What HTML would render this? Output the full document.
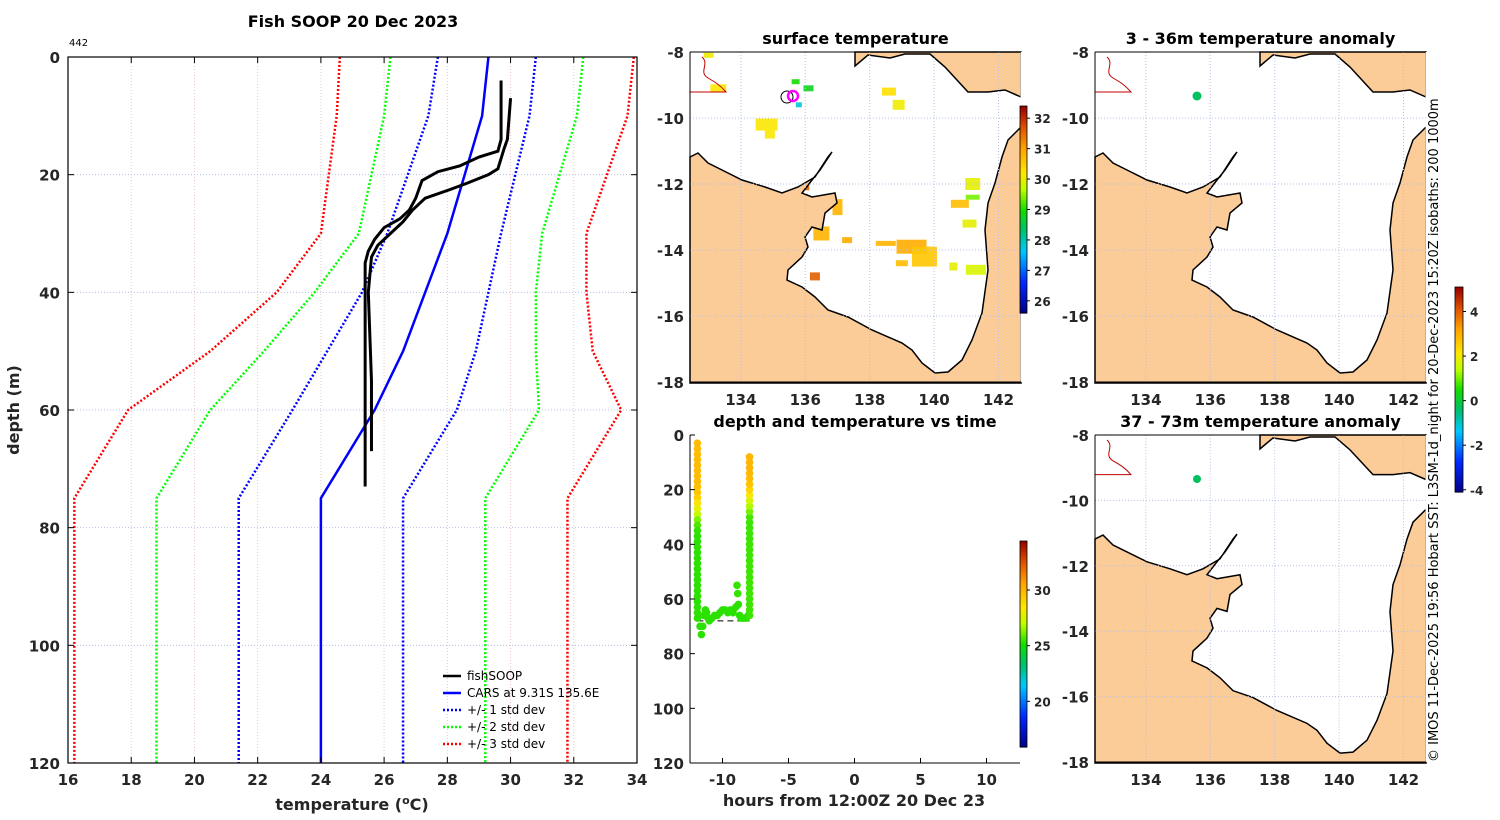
<!DOCTYPE html>
<html><head><meta charset="utf-8"><style>
html,body{margin:0;padding:0;background:#fff;}
svg{display:block;font-family:"DejaVu Sans","Liberation Sans",sans-serif;}
.tk{font-size:15px;font-weight:bold;fill:#262626;}
.ttl{font-size:16px;font-weight:bold;fill:#000;}
.cb{font-size:12px;font-weight:bold;fill:#262626;}
</style></head><body>
<svg id="s" width="1500" height="820" viewBox="0 0 1500 820" xmlns="http://www.w3.org/2000/svg"></svg>
<script>
// ---------- profile chart data ----------
const depthLevels=[0,10,30,40,50,60,75,120];
const sd3Lo=[24.6,24.5,24.0,22.6,20.5,17.9,16.2,16.2];
const sd2Lo=[26.2,26.0,25.2,23.8,22.2,20.5,18.8,18.8];
const sd1Lo=[27.7,27.4,26.1,25.3,24.2,23.1,21.4,21.4];
const cars=[29.3,29.1,28.0,27.3,26.6,25.7,24.0,24.0];
const sd1Hi=[30.8,30.6,29.7,29.3,28.9,28.3,26.6,26.6];
const sd2Hi=[32.3,32.1,31.0,30.8,30.8,30.9,29.2,29.2];
const sd3Hi=[33.9,33.7,32.4,32.4,32.6,33.5,31.8,31.8];
const fishAT=[29.7,29.7,29.6,29.0,28.4,27.7,27.2,27.0,26.8,26.5,26.0,25.7,25.5,25.4,25.4,25.4];
const fishAD=[4,14,16,17,18.5,19.5,21,24,26,27.5,29,31,33,35,50,73];
const fishBT=[30.0,29.9,29.8,29.6,29.3,28.6,28.1,27.3,26.9,26.6,26.2,25.8,25.6,25.5,25.6,25.6];
const fishBD=[7,14,15.5,19,20,21.5,22.5,24,26,28,30,32,34,40,55,67];
const tempTicks=[16,18,20,22,24,26,28,30,32,34];
const depthTicks=[0,20,40,60,80,100,120];
// ---------- depth/time data ----------
const dtTime=[-11.9,-11.9,-11.9,-11.9,-11.9,-11.9,-11.9,-11.9,-11.9,-11.9,-11.9,-11.9,-11.9,-11.9,-11.9,-11.9,-11.9,-11.9,-11.9,-11.9,-11.9,-11.9,-11.9,-11.9,-11.9,-11.9,-11.9,-11.9,-11.9,-11.9,-11.9,-11.9,-11.9,
-11.8,-11.7,-11.6,-11.5,-11.4,-11.3,-11.2,-11.1,-11,-10.8,-10.6,-10.4,-10.2,-10,-9.8,-9.6,-9.4,-9.2,-9,-8.9,-8.85,-8.8,-8.7,-8.6,-8.4,-8.2,-8.05,
-7.95,-7.95,-7.95,-7.95,-7.95,-7.95,-7.95,-7.95,-7.95,-7.95,-7.95,-7.95,-7.95,-7.95,-7.95,-7.95,-7.95,-7.95,-7.95,-7.95,-7.95,-7.95,-7.95,-7.95,-7.95,-7.95,-7.95,-7.95,-7.95,-7.95];
const dtDepth=[3,5,7,9,11,13,15,17,19,21,23,25,27,29,31,33,35,37,39,41,43,45,47,49,51,53,55,57,59,61,63,65,67,
66,70,73,70,66,64,65,67,68,67,66,66,65,64,64,65,64,65,63,55,58,62,66,67,67,67,66,
66,64,62,60,58,56,54,52,50,48,46,44,42,40,38,36,34,32,30,28,26,24,22,20,18,16,14,12,10,8];
const dtTemp=[29.8,29.8,29.8,29.8,29.8,29.8,29.8,29.8,29.7,29.5,29.2,28.6,27.9,27.2,26.3,25.8,25.5,25.4,25.4,25.4,25.4,25.4,25.4,25.4,25.4,25.4,25.4,25.4,25.4,25.4,25.4,25.4,25.4,
25.4,25.4,25.4,25.4,25.4,25.4,25.4,25.4,25.4,25.4,25.4,25.4,25.4,25.4,25.4,25.4,25.4,25.4,25.4,25.5,25.5,25.4,25.4,25.4,25.4,25.4,25.4,
25.6,25.6,25.6,25.6,25.6,25.6,25.6,25.6,25.6,25.6,25.6,25.6,25.6,25.6,25.6,25.6,25.6,25.6,25.7,26.2,26.8,27.5,28.3,29.0,29.5,29.8,29.9,30.0,30.0,30.0];
const hourTicks=[-10,-5,0,5,10];
const dtDepthTicks=[0,20,40,60,80,100,120];
// ---------- SST patches [lon, lat, w, h, temp] ----------
const sstLon=[134.8,134.9,138.6,138.9,141.2,140.8,141.1,137.0,136.5,139.3,139.7,138.5,141.3,140.6,136.3,135.5,136.0,133.3,133.0,136.1,135.7,135.8,141.2,139.0,137.3];
const sstLat=[-10.2,-10.5,-9.2,-9.6,-12.0,-12.6,-13.2,-12.7,-13.5,-13.9,-14.2,-13.8,-14.6,-14.5,-14.8,-14.3,-12.1,-9.1,-8.1,-9.1,-8.9,-9.6,-12.4,-14.4,-13.7];
const sstW=[22,10,14,12,15,18,14,10,16,30,25,20,20,8,10,8,8,16,10,10,8,6,14,12,10];
const sstH=[12,8,8,10,12,8,8,16,14,14,20,5,10,8,8,10,6,8,5,6,5,5,5,6,6];
const sstT=[30.2,30.2,30.3,30.1,30.0,30.7,30.0,30.8,30.8,30.9,30.6,30.8,29.9,30.0,31.6,31.7,31.6,30.2,30.1,28.8,29.0,27.8,29.4,30.7,30.9];

const S=document.getElementById('s');
const NS='http://www.w3.org/2000/svg';
function el(tag,attrs,parent,text){const e=document.createElementNS(NS,tag);for(const k in attrs)e.setAttribute(k,attrs[k]);if(text!==undefined)e.textContent=text;(parent||S).appendChild(e);return e;}
const cmapStops=[[0,[0,0,130]],[0.15,[0,40,255]],[0.3,[0,200,255]],[0.4,[0,190,110]],[0.5,[20,220,0]],[0.6,[190,255,0]],[0.68,[255,230,0]],[0.8,[255,160,0]],[0.9,[220,80,0]],[1,[150,0,0]]];
function jet(x){x=Math.max(0,Math.min(1,x));for(let i=1;i<cmapStops.length;i++){const [a,ca]=cmapStops[i-1],[b,cb]=cmapStops[i];if(x<=b){const f=(x-a)/(b-a);return 'rgb('+ca.map((v,k)=>Math.round(v+(cb[k]-v)*f)).join(',')+')';}}return 'rgb(150,0,0)';}

// ================= PROFILE CHART =================
const PX0=68,PX1=637,PY0=57,PY1=763;
const xT=t=>PX0+(t-16)*(PX1-PX0)/18;
const yD=d=>PY0+d*(PY1-PY0)/120;
const gP=el('g',{});

tempTicks.forEach(t=>{const l=el('line',{x1:xT(t),x2:xT(t),y1:PY0,y2:PY1,stroke:'#e6c8c0','stroke-dasharray':'1,2','stroke-width':1},gP);});
depthTicks.forEach(d=>{const l=el('line',{x1:PX0,x2:PX1,y1:yD(d),y2:yD(d),stroke:'#b8c0e8','stroke-dasharray':'1,2','stroke-width':1},gP);});
function profLine(T,D,color,dash,w,name){const p=el('polyline',{points:T.map((t,i)=>xT(t)+','+yD(D[i])).join(' '),fill:'none',stroke:color,'stroke-width':w,'stroke-dasharray':dash||'none'},gP);}
profLine(sd3Lo,depthLevels,'#ff0000','2,2',2.5,'minus-3-std-line');
profLine(sd2Lo,depthLevels,'#00ff00','2,2',2.5,'minus-2-std-line');
profLine(sd1Lo,depthLevels,'#0000ff','2,2',2.5,'minus-1-std-line');
profLine(sd1Hi,depthLevels,'#0000ff','2,2',2.5,'plus-1-std-line');
profLine(sd2Hi,depthLevels,'#00ff00','2,2',2.5,'plus-2-std-line');
profLine(sd3Hi,depthLevels,'#ff0000','2,2',2.5,'plus-3-std-line');
profLine(cars,depthLevels,'#0000ff',null,2.5,'cars-line');
profLine(fishAT,fishAD,'#000',null,3,'fishsoop-profile-a');
profLine(fishBT,fishBD,'#000',null,3,'fishsoop-profile-b');
el('rect',{x:PX0,y:PY0,width:PX1-PX0,height:PY1-PY0,fill:'none',stroke:'#000','stroke-width':1.2},gP);
tempTicks.forEach(t=>{el('line',{x1:xT(t),x2:xT(t),y1:PY1,y2:PY1-6,stroke:'#000'},gP);el('line',{x1:xT(t),x2:xT(t),y1:PY0,y2:PY0+6,stroke:'#000'},gP);
 const tx=el('text',{x:xT(t),y:PY1+22,'text-anchor':'middle',class:'tk'},gP,t);});
depthTicks.forEach(d=>{el('line',{x1:PX0,x2:PX0+6,y1:yD(d),y2:yD(d),stroke:'#000'},gP);el('line',{x1:PX1,x2:PX1-6,y1:yD(d),y2:yD(d),stroke:'#000'},gP);
 const tx=el('text',{x:PX0-8,y:yD(d)+6,'text-anchor':'end',class:'tk'},gP,d);});
let t1=el('text',{x:353,y:27,'text-anchor':'middle',class:'ttl'},gP,'Fish SOOP 20 Dec 2023');
let t2=el('text',{x:69,y:46,style:'font-size:10px;fill:#000'},gP,'442');
let xt=el('text',{x:352,y:810,'text-anchor':'middle',class:'tk',style:'font-size:16px'},gP);
xt.innerHTML='temperature (<tspan dy="-6" style="font-size:11px">o</tspan><tspan dy="6">C)</tspan>';
let yt=el('text',{x:0,y:0,transform:'translate(19,410) rotate(-90)','text-anchor':'middle',class:'tk',style:'font-size:16px'},gP,'depth (m)');
// legend
const legLabels=['fishSOOP','CARS at 9.31S 135.6E','+/- 1 std dev','+/- 2 std dev','+/- 3 std dev'];
const legColors=['#000','#0000ff','#0000ff','#00ff00','#ff0000'];
const legDash=['none','none','2,2','2,2','2,2'];
const gL=el('g',{},gP);
legLabels.forEach((lab,i)=>{const y=676+i*17;const ge=el('g',{},gL);
 el('line',{x1:443,x2:461,y1:y,y2:y,stroke:legColors[i],'stroke-width':2.5,'stroke-dasharray':legDash[i]},ge);
 el('text',{x:467,y:y+4,style:'font-size:12px;fill:#000'},ge,lab);});

// ================= MAPS =================
const mainLand=[[0,105],[8,101],[18,111],[32,118],[52,128],[75,135],[92,141],[108,135],[125,125],[138,105],[142,100],[130,118],[122,128],[112,141],[122,145],[145,141],[147,151],[135,161],[132,178],[122,175],[115,185],[118,195],[112,205],[98,218],[97,228],[112,235],[125,245],[138,258],[158,265],[182,278],[212,291],[222,298],[232,311],[245,321],[258,320],[272,308],[282,288],[292,261],[298,218],[295,178],[298,151],[305,131],[312,105],[318,88],[328,78],[331,75],[331,331],[0,331]];
const topLand=[[165,14],[178,3],[200,6],[215,2],[240,2],[255,15],[278,40],[298,40],[315,38],[331,45],[331,0],[165,0]];
const MW=331,MH=330;
function drawMap(ox,oy,h,name,title,withSST){
 const sy=h/MH;
 const g=el('g',{});
 const gi=el('g',{transform:`translate(${ox},${oy}) scale(1,${sy})`},g);
 el('rect',{x:0,y:0,width:MW,height:MH,fill:'#fff'},gi);
 const lx=lon=>(lon-132.42)*32.2, ly=lat=>(-8-lat)*33;
 if(withSST){sstLon.forEach((lo,i)=>{const r=el('rect',{x:lx(lo)-sstW[i]/2,y:ly(sstLat[i])-sstH[i]/2,width:sstW[i],height:sstH[i],fill:jet((sstT[i]-25.6)/6.8),opacity:0.9},gi);});}
 const l1=el('polygon',{points:mainLand.map(p=>p.join(',')).join(' '),fill:'#fbcb98',stroke:'#000','stroke-width':1.5},gi);
 const l2=el('polygon',{points:topLand.map(p=>p.join(',')).join(' '),fill:'#fbcb98',stroke:'#000','stroke-width':1.5},gi);
 el('rect',{x:MW-0.5,y:0,width:2,height:MH,fill:'#fff'},gi);
 el('path',{d:'M12,5 C20,12 8,20 18,26 C25,30 30,33 36,40 L0,40',fill:'none',stroke:'#c00000','stroke-width':1},gi);
 [134,136,138,140,142].forEach(lo=>el('line',{x1:lx(lo),x2:lx(lo),y1:0,y2:MH,stroke:'#b8c0e8','stroke-dasharray':'1,2'},gi));
 [-10,-12,-14,-16].forEach(la=>el('line',{x1:0,x2:MW,y1:ly(la),y2:ly(la),stroke:'#b8c0e8','stroke-dasharray':'1,2'},gi));
 el('line',{x1:0,x2:0,y1:0,y2:MH,stroke:'#000'},gi);
 el('line',{x1:0,x2:MW,y1:0,y2:0,stroke:'#000'},gi);
 el('line',{x1:0,x2:MW,y1:MH,y2:MH,stroke:'#000'},gi);
 [134,136,138,140,142].forEach(lo=>{const t=el('text',{x:ox+lx(lo),y:oy+h+23,'text-anchor':'middle',class:'tk'},g,lo);});
 [-8,-10,-12,-14,-16,-18].forEach(la=>{const t=el('text',{x:ox-6,y:oy+ly(la)*sy+6,'text-anchor':'end',class:'tk'},g,la);});
 const tt=el('text',{x:ox+MW/2,y:oy-8,'text-anchor':'middle',class:'ttl'},g,title);
 return {g,lx,ly,sy};
}
const m1=drawMap(690,52,330,'surface-temperature-map','surface temperature',true);
let c1=el('circle',{cx:787,cy:97,r:6,fill:'none',stroke:'#000','stroke-width':1},m1.g);
let c2=el('circle',{cx:793,cy:96,r:5,fill:'none',stroke:'#ff00ff','stroke-width':2.5},m1.g);
const m2=drawMap(1095,52,330,'anomaly-map-3-36m','3 - 36m temperature anomaly',false);
let d1=el('circle',{cx:1197,cy:96,r:4.5,fill:'#00c060'},m2.g);
const m3=drawMap(1095,435,327,'anomaly-map-37-73m','37 - 73m temperature anomaly',false);
let d2=el('circle',{cx:1197,cy:479,r:4,fill:'#00c060'},m3.g);

// colorbars
function colorbar(x,y,w,h,vmin,vmax,ticks,name){
 const g=el('g',{});
 const n=80;for(let i=0;i<n;i++){el('rect',{x:x,y:y+h-(i+1)*h/n,width:w,height:h/n+0.6,fill:jet((i+0.5)/n)},g);}
 el('rect',{x:x,y:y,width:w,height:h,fill:'none',stroke:'#000','stroke-width':0.8},g);
 ticks.forEach(v=>{const yy=y+h-(v-vmin)/(vmax-vmin)*h;el('line',{x1:x+w,x2:x+w+3,y1:yy,y2:yy,stroke:'#000'},g);
  const t=el('text',{x:x+w+7,y:yy+5,class:'cb'},g,v);});
}
colorbar(1020,106,7,207,25.6,32.4,[26,27,28,29,30,31,32],'sst-colorbar');
colorbar(1455,287,8,205,-4.1,5.1,[-4,-2,0,2,4],'anomaly-colorbar');
colorbar(1020,541,7,206,15.9,34.4,[20,25,30],'depth-time-colorbar');

// ================= DEPTH vs TIME =================
const TX0=690,TX1=1020,TY0=435,TY1=763;
const xH=h=>854.5+h*13.2;
const yDt=d=>TY0+d*(TY1-TY0)/120;
const gT=el('g',{});
let tt=el('text',{x:855,y:427,'text-anchor':'middle',class:'ttl'},gT,'depth and temperature vs time');
let dl=el('line',{x1:xH(-11.9),x2:xH(-7.95),y1:yDt(68),y2:yDt(68),stroke:'#000','stroke-dasharray':'6,4'},gT);
dtTime.forEach((h,i)=>{const c=el('circle',{cx:xH(h),cy:yDt(dtDepth[i]),r:3.8,fill:jet((dtTemp[i]-15.9)/18.5)},gT);});
el('line',{x1:TX0,x2:TX0,y1:TY0,y2:TY1,stroke:'#000'},gT);
el('line',{x1:TX0,x2:TX1,y1:TY1,y2:TY1,stroke:'#000'},gT);
hourTicks.forEach(h=>{el('line',{x1:xH(h),x2:xH(h),y1:TY1,y2:TY1-5,stroke:'#000'},gT);const t=el('text',{x:xH(h),y:TY1+22,'text-anchor':'middle',class:'tk'},gT,h);});
dtDepthTicks.forEach(d=>{el('line',{x1:TX0,x2:TX0+5,y1:yDt(d),y2:yDt(d),stroke:'#000'},gT);const t=el('text',{x:TX0-6,y:yDt(d)+6,'text-anchor':'end',class:'tk'},gT,d);});
let hx=el('text',{x:854,y:806,'text-anchor':'middle',class:'tk',style:'font-size:16px'},gT,'hours from 12:00Z 20 Dec 23');

// credit text
let cr=el('text',{x:0,y:0,transform:'translate(1438,762) rotate(-90)',style:'font-size:13px;fill:#000'},S,'© IMOS 11-Dec-2025 19:56 Hobart SST: L3SM-1d_night for 20-Dec-2023 15:20Z isobaths: 200  1000m');


</script>
</body></html>
